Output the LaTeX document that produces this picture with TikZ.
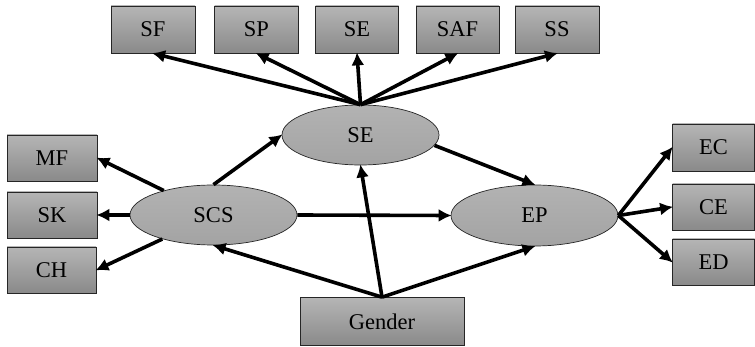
\documentclass[tikz,border=0pt]{standalone}
\usepackage{fontspec}
\setmainfont{Liberation Serif}
\usetikzlibrary{shapes.geometric,arrows.meta}
\tikzset{
  box/.style={rectangle, draw=black!85, line width=0.7pt, top color=gray!58, bottom color=gray!92, inner sep=0pt, font=\fontsize{22.5}{24}\selectfont},
  ell/.style={ellipse, draw=black!85, line width=0.7pt, top color=gray!60, bottom color=gray!72, inner sep=0pt, font=\fontsize{22.5}{24}\selectfont},
  conn/.style={line width=3.6pt, -{Latex[length=13pt,width=13pt]}, shorten >=-1pt}
}
\begin{document}
\begin{tikzpicture}[x=1pt,y=-1pt]
\useasboundingbox (0,0) rectangle (755,347);
% top boxes
\node[box, minimum width=84pt, minimum height=47pt] (SF) at (153,29.5) {SF};
\node[box, minimum width=84pt, minimum height=47pt] (SP) at (256.5,29.5) {SP};
\node[box, minimum width=83pt, minimum height=47pt] (SEb) at (357,29.5) {SE};
\node[box, minimum width=83pt, minimum height=47pt] (SAF) at (457.5,29.5) {SAF};
\node[box, minimum width=84pt, minimum height=47pt] (SS) at (557,29.5) {SS};
% left boxes
\node[box, minimum width=90pt, minimum height=46pt] (MF) at (52,158) {MF};
\node[box, minimum width=90pt, minimum height=46pt] (SK) at (52,215) {SK};
\node[box, minimum width=89pt, minimum height=46pt] (CH) at (51.5,270) {CH};
% right boxes
\node[box, minimum width=82pt, minimum height=47pt] (EC) at (713.5,147.5) {EC};
\node[box, minimum width=82pt, minimum height=46pt] (CE) at (713.5,207) {CE};
\node[box, minimum width=82pt, minimum height=46pt] (ED) at (713.5,262) {ED};
% gender
\node[box, minimum width=164pt, minimum height=48pt] (G) at (382,321.5) {Gender};
% ellipses
\node[ell, minimum width=157pt, minimum height=60pt] (SE) at (360.5,135) {SE};
\node[ell, minimum width=167pt, minimum height=60pt] (SCS) at (213.5,215) {SCS};
\node[ell, minimum width=167pt, minimum height=61pt] (EP) at (534.5,215.5) {EP};
% connectors
\draw[conn] (SE.north) -- (SF.south);
\draw[conn] (SE.north) -- (SP.south);
\draw[conn] (SE.north) -- (SEb.south);
\draw[conn] (SE.north) -- (SAF.south);
\draw[conn] (SE.north) -- (SS.south);
\draw[conn] (SCS) -- (MF.east);
\draw[conn] (SCS) -- (SK.east);
\draw[conn] (SCS) -- (CH.east);
\draw[conn] (SCS.north) -- (SE.west);
\draw[conn] (SCS.east) -- (EP.west);
\draw[conn] (SE.-8) -- (EP.north);
\draw[conn] (G.north) -- (SCS.south);
\draw[conn] (G.north) -- (SE.south);
\draw[conn] (G.north) -- (EP.south);
\draw[conn] (EP.east) -- (EC.west);
\draw[conn] (EP.east) -- (CE.west);
\draw[conn] (EP.east) -- (ED.west);
\end{tikzpicture}
\end{document}
